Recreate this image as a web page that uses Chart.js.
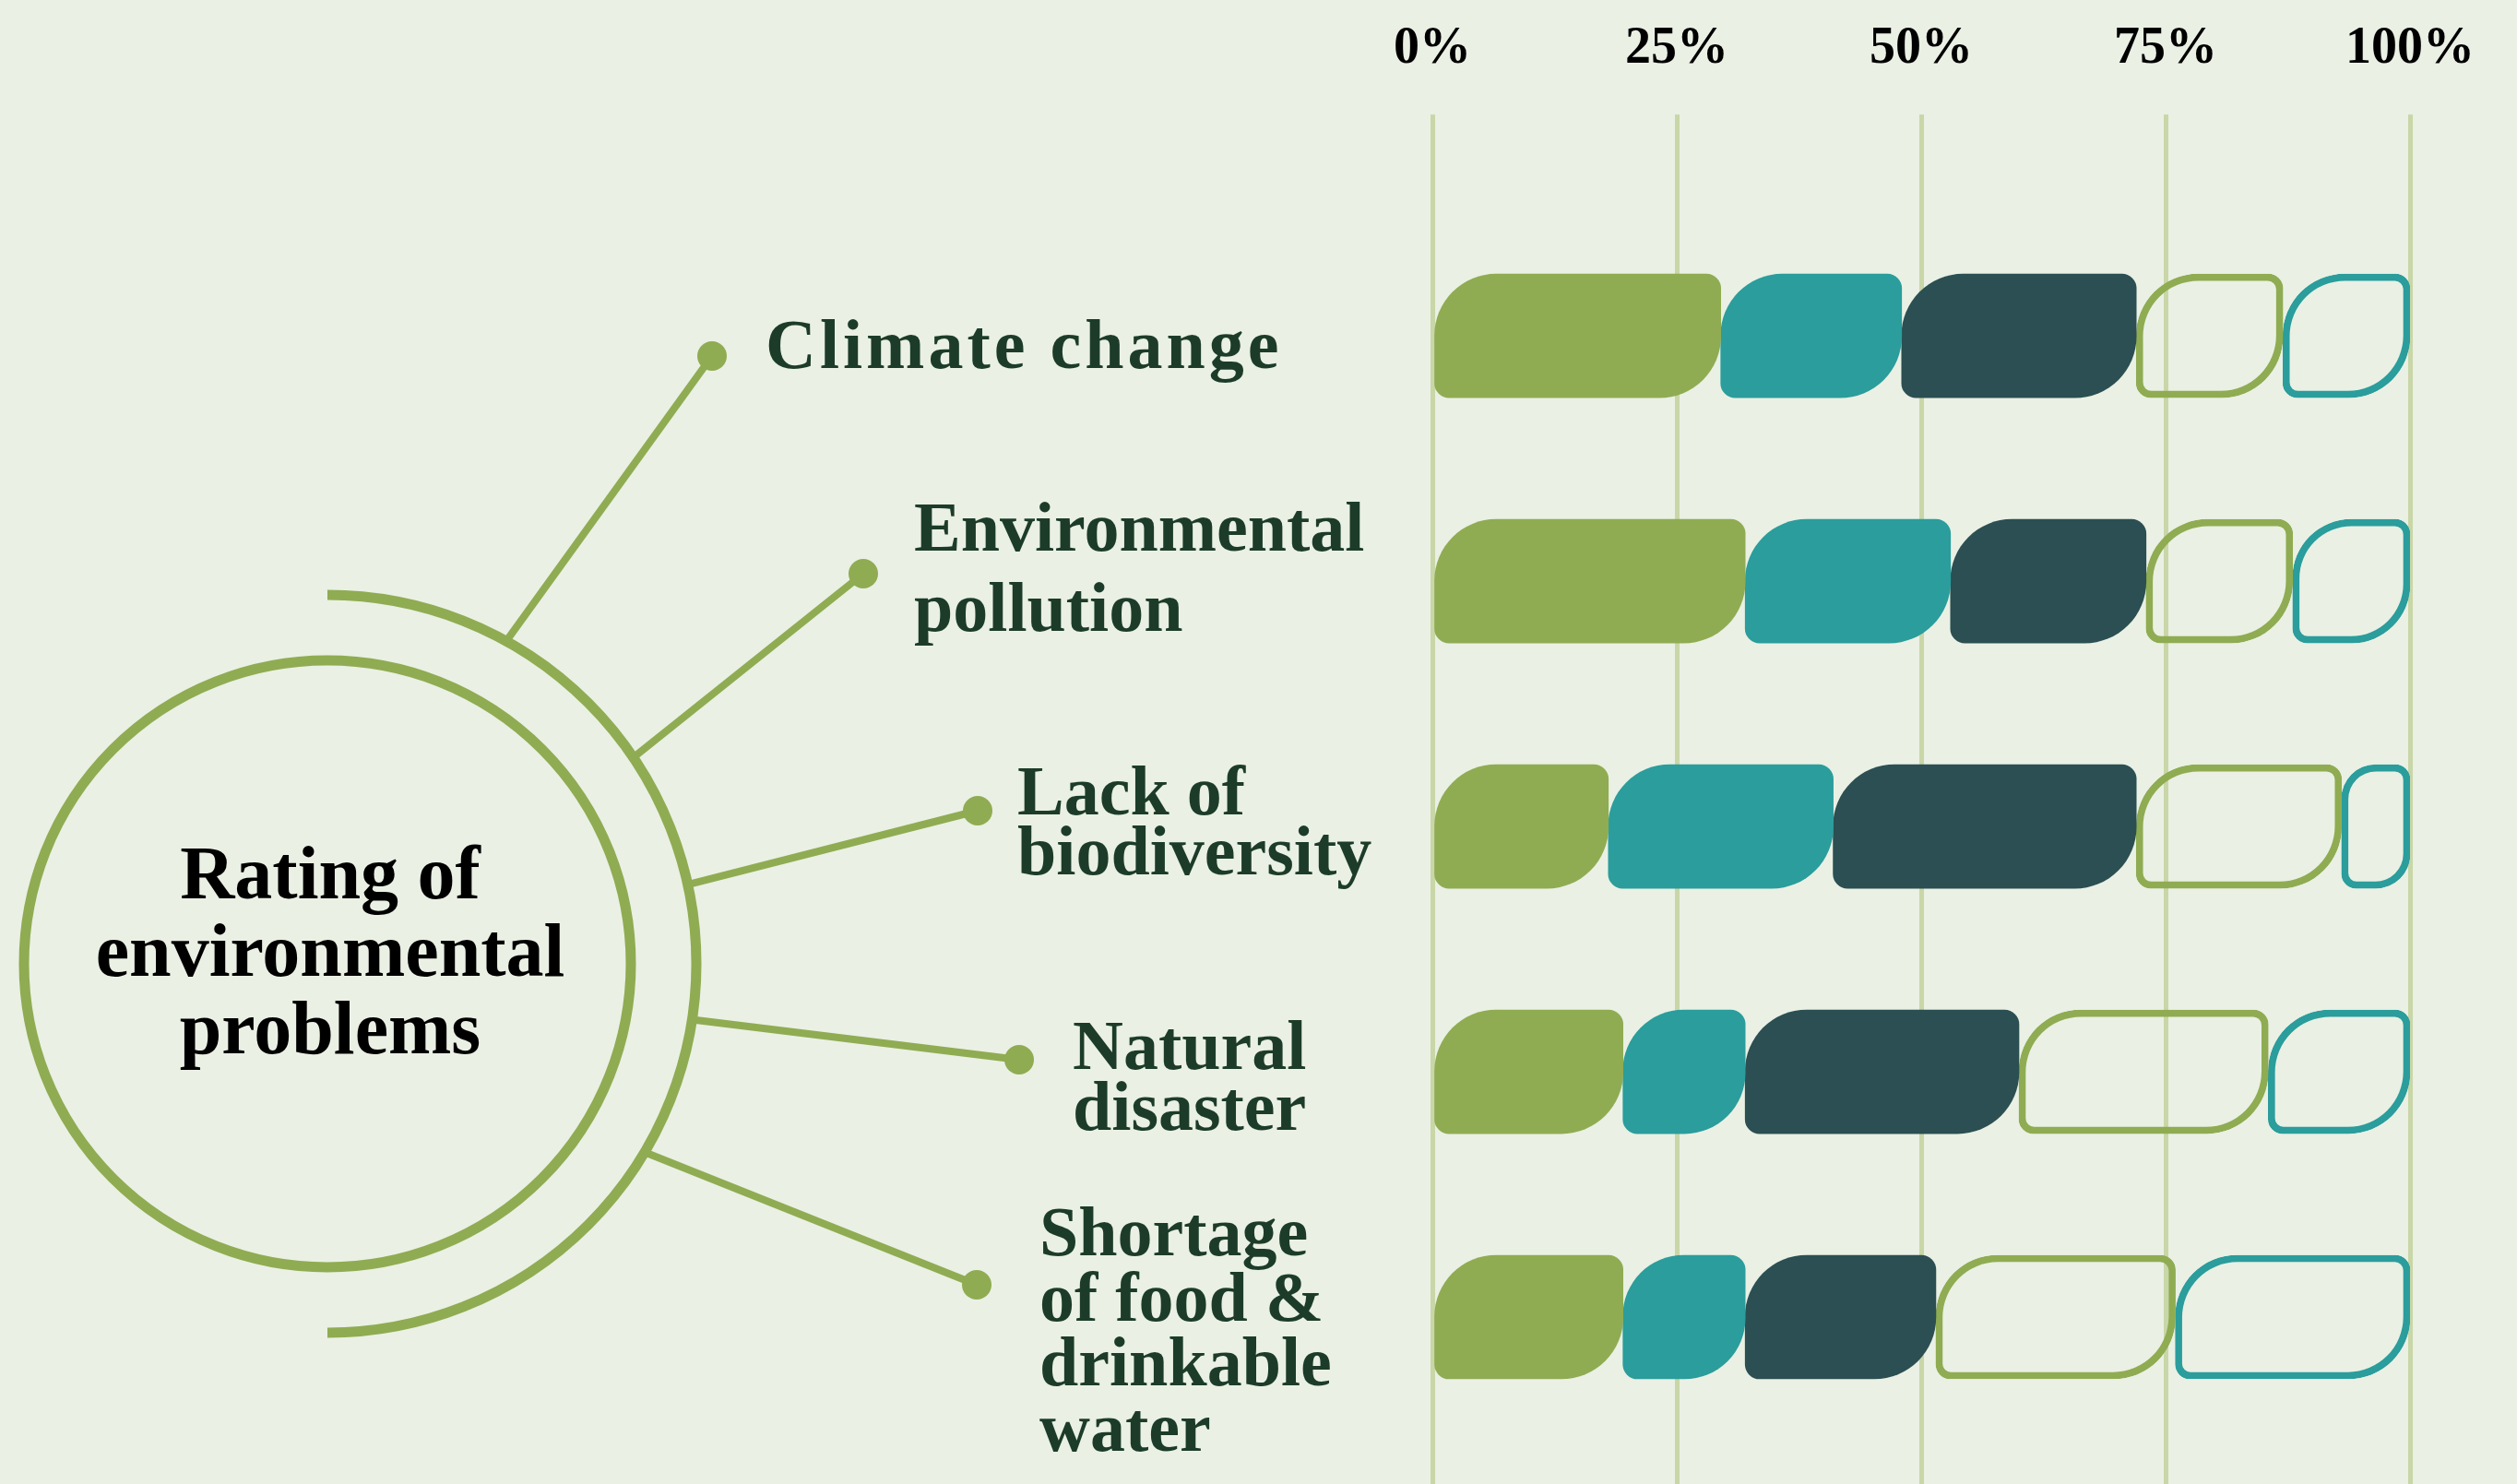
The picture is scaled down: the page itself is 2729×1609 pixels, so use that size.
<!DOCTYPE html>
<html>
<head>
<meta charset="utf-8">
<script src="https://cdn.jsdelivr.net/npm/chart.js@4.4.1/dist/chart.umd.min.js"></script>
<style>
  html, body { margin: 0; padding: 0; background: #eaf0e4; overflow: hidden; }
  #wrap { width: 2729px; height: 1609px; position: relative; }
</style>
</head>
<body>
<div id="wrap"><canvas id="ratingChart"></canvas></div>
<script>
// Data (share of answers, %)
const categories = [
    ['Climate change'],
    ['Environmental', 'pollution'],
    ['Lack of', 'biodiversity'],
    ['Natural', 'disaster'],
    ['Shortage', 'of food &', 'drinkable', 'water']
];
const seriesNames = ['Very serious', 'Serious', 'Moderate', 'Minor', 'Not serious'];
const verySerious = [29.5, 32, 18, 19.5, 19.5];
const serious     = [18.5, 21, 23, 12.5, 12.5];
const moderate    = [24, 20, 31, 28, 19.5];
const minor       = [15, 15, 21, 25.5, 24.5];
const notSerious  = [13, 12, 7, 14.5, 24];
const xTickLabels = ['0%', '25%', '50%', '75%', '100%'];
const titleLines  = ['Rating of', 'environmental', 'problems'];

const GREEN = '#8fac52';
const TEAL = '#2a9d9c';
const DARK = '#2b4f52';
const LABEL = '#1c3c29';

// leaf shaped segments
const leaf = { topLeft: 67, bottomRight: 67, topRight: 16, bottomLeft: 16 };

function filled(label, data, color) {
    return { label, data, backgroundColor: color, borderWidth: 0, borderSkipped: false, borderRadius: leaf };
}
function outlined(label, data, color) {
    return { label, data, backgroundColor: 'rgba(0,0,0,0)', borderColor: color, borderWidth: 7, borderSkipped: false, borderRadius: leaf };
}

// callout decoration on the left (position only)
const calloutLayout = [
    { textX: 830, baseline: 399, lineGap: 0, dot: [772, 386], angle: -61 },
    { textX: 991, baseline: 597, lineGap: 87, dot: [936, 622], angle: -34 },
    { textX: 1103, baseline: 883, lineGap: 65, dot: [1060, 879], angle: -12.4 },
    { textX: 1163, baseline: 1159, lineGap: 66, dot: [1105, 1149], angle: 8.7 },
    { textX: 1127, baseline: 1361, lineGap: 70.5, dot: [1059, 1393], angle: 30.7 }
];
const ring = { cx: 355, cy: 1045, inner: 329, outer: 400 };

const calloutPlugin = {
    id: 'callouts',
    afterDraw(chart) {
        const ctx = chart.ctx;
        ctx.save();
        ctx.strokeStyle = GREEN;
        ctx.fillStyle = GREEN;

        // connector lines
        ctx.lineWidth = 8;
        calloutLayout.forEach(c => {
            const a = c.angle * Math.PI / 180;
            ctx.beginPath();
            ctx.moveTo(ring.cx + ring.outer * Math.cos(a), ring.cy + ring.outer * Math.sin(a));
            ctx.lineTo(c.dot[0], c.dot[1]);
            ctx.stroke();
            ctx.beginPath();
            ctx.arc(c.dot[0], c.dot[1], 16, 0, Math.PI * 2);
            ctx.fill();
        });

        // outer half ring and inner circle
        ctx.lineWidth = 11;
        ctx.lineCap = 'butt';
        ctx.beginPath();
        ctx.arc(ring.cx, ring.cy, ring.outer, -Math.PI / 2, Math.PI / 2);
        ctx.stroke();
        ctx.beginPath();
        ctx.arc(ring.cx, ring.cy, ring.inner, 0, Math.PI * 2);
        ctx.stroke();

        // title in the circle
        ctx.fillStyle = '#000';
        ctx.font = 'bold 82px "Liberation Serif"';
        ctx.textAlign = 'center';
        ctx.textBaseline = 'alphabetic';
        titleLines.forEach((t, i) => ctx.fillText(t, 358, 974 + i * 84));

        // category names
        ctx.fillStyle = LABEL;
        ctx.font = 'bold 76px "Liberation Serif"';
        ctx.textAlign = 'left';
        categories.forEach((lines, i) => {
            const c = calloutLayout[i];
            ctx.letterSpacing = lines.length === 1 ? '4px' : '0px';
            lines.forEach((t, j) => ctx.fillText(t, c.textX, c.baseline + j * c.lineGap));
        });
        ctx.restore();
    }
};

new Chart(document.getElementById('ratingChart'), {
    type: 'bar',
    data: {
        labels: categories,
        datasets: [
            filled(seriesNames[0], verySerious, GREEN),
            filled(seriesNames[1], serious, TEAL),
            filled(seriesNames[2], moderate, DARK),
            outlined(seriesNames[3], minor, GREEN),
            outlined(seriesNames[4], notSerious, TEAL)
        ]
    },
    options: {
        indexAxis: 'y',
        responsive: true,
        maintainAspectRatio: false,
        animation: false,
        events: [],
        barThickness: 134,
        layout: { padding: { left: 1553, right: 116, top: -17, bottom: 0 } },
        plugins: { legend: { display: false }, tooltip: { enabled: false } },
        scales: {
            x: {
                type: 'linear',
                position: 'top',
                stacked: true,
                min: 0,
                max: 100,
                ticks: {
                    stepSize: 25,
                    padding: 37,
                    color: '#000',
                    font: { family: 'Liberation Serif', size: 56, weight: 'bold' },
                    callback: (v, i) => xTickLabels[i]
                },
                grid: { color: '#c9d6a7', lineWidth: 5, tickLength: 107 },
                border: { display: false }
            },
            x2: {
                type: 'linear',
                position: 'bottom',
                min: 0,
                max: 100,
                ticks: { stepSize: 25, display: false },
                grid: { color: '#c9d6a7', lineWidth: 5, tickLength: 48, drawOnChartArea: false },
                border: { display: false }
            },
            y: {
                type: 'category',
                stacked: true,
                display: false
            }
        }
    },
    plugins: [calloutPlugin]
});
</script>
</body>
</html>
